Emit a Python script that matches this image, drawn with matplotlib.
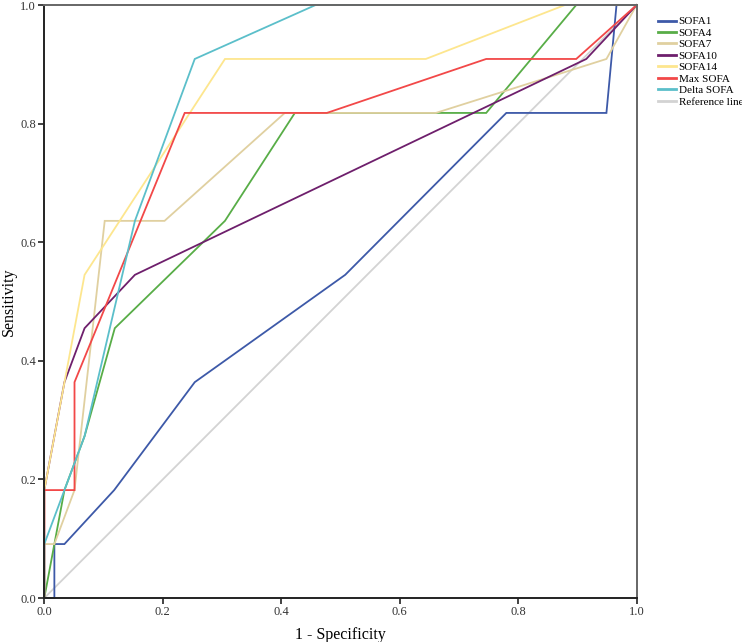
import matplotlib
matplotlib.use("Agg")
import matplotlib.pyplot as plt

plt.rcParams['font.family'] = ['Liberation Serif', 'DejaVu Serif']

labels = ["SOFA1", "SOFA4", "SOFA7", "SOFA10", "SOFA14", "Max SOFA", "Delta SOFA", "Reference line"]
colors = ["#3d59a8", "#58ad47", "#e0d0a0", "#6e1f6c", "#fde68e", "#f24848", "#5bbfca", "#d3d3d3"]

sofa1_x = [0, 0.017, 0.017, 0.034, 0.118, 0.254, 0.508, 0.780, 0.949, 0.966, 1.0]
sofa1_y = [0, 0, 0.091, 0.091, 0.182, 0.364, 0.545, 0.818, 0.818, 1.0, 1.0]

sofa4_x = [0, 0.017, 0.034, 0.068, 0.119, 0.305, 0.423, 0.746, 0.898, 1.0]
sofa4_y = [0, 0.091, 0.182, 0.273, 0.455, 0.636, 0.818, 0.818, 1.0, 1.0]

sofa7_x = [0, 0, 0.017, 0.051, 0.102, 0.203, 0.406, 0.661, 0.949, 1.0]
sofa7_y = [0, 0.091, 0.091, 0.182, 0.636, 0.636, 0.818, 0.818, 0.909, 1.0]

sofa10_x = [0, 0, 0.034, 0.068, 0.153, 0.915, 1.0]
sofa10_y = [0, 0.182, 0.364, 0.455, 0.545, 0.909, 1.0]

sofa14_x = [0, 0, 0.068, 0.305, 0.644, 0.879, 1.0]
sofa14_y = [0, 0.182, 0.545, 0.909, 0.909, 1.0, 1.0]

max_x = [0, 0, 0.051, 0.051, 0.237, 0.477, 0.746, 0.898, 1.0]
max_y = [0, 0.182, 0.182, 0.364, 0.818, 0.818, 0.909, 0.909, 1.0]

delta_x = [0, 0, 0.068, 0.153, 0.254, 0.458, 1.0]
delta_y = [0, 0.091, 0.273, 0.636, 0.909, 1.0, 1.0]

ref_x = [0, 1]
ref_y = [0, 1]

series = [(sofa1_x, sofa1_y), (sofa4_x, sofa4_y), (sofa7_x, sofa7_y), (sofa10_x, sofa10_y),
          (sofa14_x, sofa14_y), (max_x, max_y), (delta_x, delta_y), (ref_x, ref_y)]

ticks = [0.0, 0.2, 0.4, 0.6, 0.8, 1.0]

fig = plt.figure(figsize=(7.42, 6.42), dpi=100)
ax = fig.add_axes([0.0597, 0.0685, 0.7983, 0.9237])

order = [7, 0, 1, 2, 3, 4, 5, 6]
handles = {}
for i in order:
    xs, ys = series[i]
    h, = ax.plot(xs, ys, color=colors[i], lw=1.3, solid_joinstyle='miter', clip_on=False)
    handles[i] = h

ax.set_xlim(0, 1)
ax.set_ylim(0, 1)
ax.set_xticks(ticks)
ax.set_yticks(ticks)
ax.set_xticklabels([f"{t:.1f}" for t in ticks], fontsize=9, color="#333333")
ax.set_yticklabels([f"{t:.1f}" for t in ticks], fontsize=9, color="#333333")
ax.tick_params(direction='out', length=4, width=1.2, pad=2, colors="#222222", labelcolor="#333333")
for side in ['left', 'bottom']:
    ax.spines[side].set_color("#222222")
    ax.spines[side].set_linewidth(1.4)
for side in ['top', 'right']:
    ax.spines[side].set_color("#666666")
    ax.spines[side].set_linewidth(1.4)

ax.set_xlabel("1 - Specificity", fontsize=11.5, labelpad=6)
ax.set_ylabel("Sensitivity", fontsize=11.5)
ax.yaxis.set_label_coords(-0.047, 0.5)

leg = fig.legend([handles[i] for i in range(8)], labels, loc='upper left',
                 bbox_to_anchor=(0.887, 0.974), frameon=False, fontsize=8,
                 handlelength=1.6, handletextpad=0.25, labelspacing=0.15, borderaxespad=0,
                 borderpad=0)
for line in leg.get_lines():
    line.set_linewidth(2.0)

fig.savefig("out.png", dpi=100)
